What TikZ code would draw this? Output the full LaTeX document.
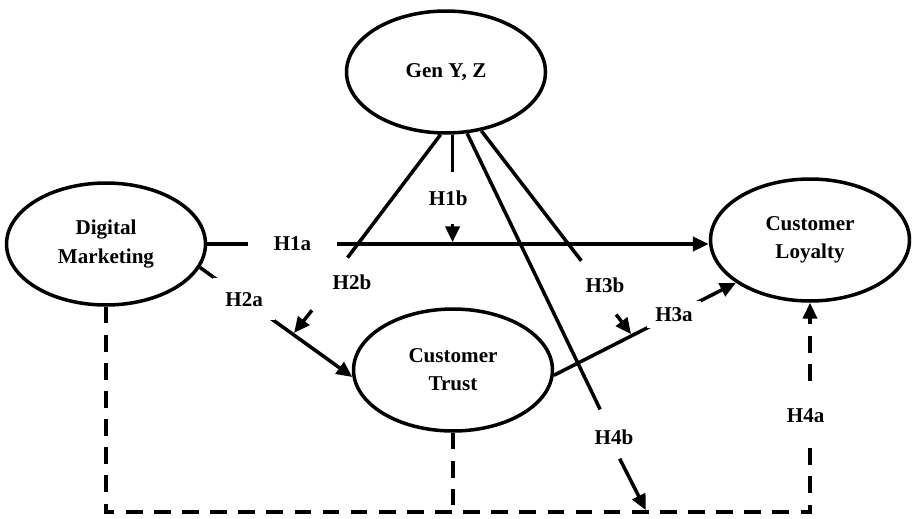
\documentclass[tikz,border=0pt]{standalone}
\usepackage{fontspec}
\setmainfont{Liberation Serif}
\usetikzlibrary{shapes.geometric,arrows.meta}
\tikzset{
  construct/.style={ellipse,draw,minimum width=3.98cm,minimum height=2.44cm,inner sep=0pt,align=center},
  hyp/.style={inner sep=1pt},
  gap/.style={fill=white},
  arr/.style={-{Triangle[length=9pt,width=8pt]}},
  dsh/.style={dash pattern=on 9.5pt off 6.5pt}
}
\begin{document}
\begin{tikzpicture}[x=0.02cm,y=-0.02cm,line width=2pt,font=\fontsize{12}{16}\selectfont\bfseries]
\useasboundingbox (0,0) rectangle (913,518);
\node[construct] (dm) at (106,244) {Digital\\Marketing};
\node[construct] (gen) at (446,72) {Gen Y, Z};
\node[construct] (cl) at (810,240) {Customer\\Loyalty};
\node[construct] (ct) at (453,370) {Customer\\Trust};

\draw[arr] (dm.east) -- node[hyp,gap,inner xsep=0.52cm,pos=0.17] {H1a} (dm.east -| cl.west);
\draw[arr] (dm.-14) -- node[hyp,gap,inner xsep=0.25cm,inner ysep=0.28cm,pos=0.29] {H2a} coordinate[pos=0.61] (m2) (ct.184);
\draw[arr] (ct.-3) -- coordinate[pos=0.43] (m3) node[hyp,gap,inner xsep=0.16cm,inner ysep=0.13cm,pos=0.66] {H3a} (cl.210);
\draw[dsh,arr] (dm.south) -- ++(0,205) -| coordinate[pos=0.384] (m4) node[hyp,gap,inner ysep=0.37cm,pos=0.73,xshift=-2.5pt] {H4a} (cl.south);
\draw[dsh] (ct.south) -- ++(0,72);

\draw[arr,shorten >=1pt] (gen.-84) -- node[hyp,gap,inner ysep=0.37cm,pos=0.58,xshift=-2.5pt] {H1b} (gen.-84 |- dm.east);
\draw (gen.-95) -- ++(-93,123);
\draw (gen.-59) -- ++(100,130);
\draw (gen.-71) -- ++(133,276);
\node[hyp] (h2b) at (352,282) {H2b};
\node[hyp] (h3b) at (605,285) {H3b};
\node[hyp] (h4b) at (614,437) {H4b};
\draw[arr,shorten >=1pt] (m2) ++(19,-24) -- (m2);
\draw[arr,shorten >=1pt] (m3) ++(-16,-21) -- (m3);
\draw[arr,shorten >=1pt] (m4) ++(-27,-53) -- (m4);
\end{tikzpicture}
\end{document}
